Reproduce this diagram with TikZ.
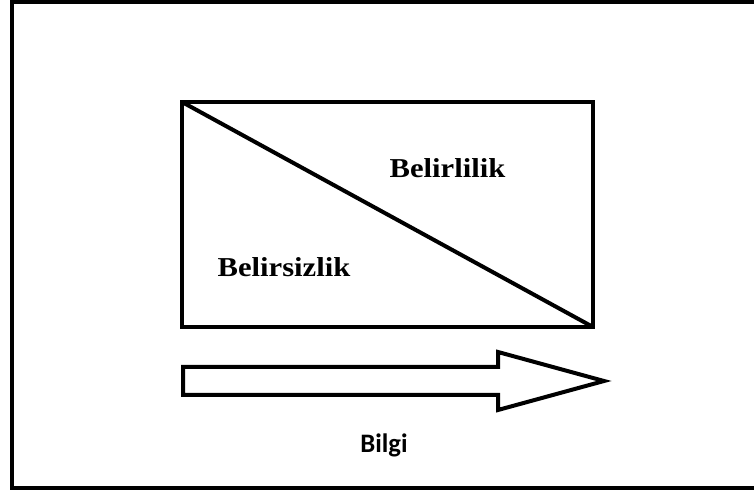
\documentclass[tikz,border=0pt]{standalone}
\usepackage{fontspec}
\newfontfamily\calibri{Carlito}
\newfontfamily\bookserif[FakeStretch=1.12]{Liberation Serif}
\begin{document}
\begin{tikzpicture}[x=0.75pt,y=-0.75pt,
  thick line/.style={line width=3pt},
  serifbold/.style={font=\bookserif\bfseries\fontsize{20.5pt}{24pt}\selectfont, inner sep=0pt, anchor=base},
  sansbold/.style={font=\calibri\bfseries\fontsize{20pt}{23pt}\selectfont, inner sep=0pt, anchor=base}]
\useasboundingbox (0,0) rectangle (754,491);
% outer frame (right side cut off)
\draw[thick line, line join=miter] (760,2) -- (11.5,2) -- (11.5,488) -- (760,488);
% box with diagonal
\coordinate (tl) at (182,102);
\coordinate (br) at (593,327);
\draw[thick line] (tl) rectangle (br);
\draw[thick line] (tl) -- (br);
\node[serifbold] (certain) at (447.5,178) {Belirlilik};
\node[serifbold] (uncertain) at (284,277) {Belirsizlik};
% block arrow
\draw[thick line, line join=miter] (183,367) -- (498,367) -- (498,352) -- (604,381) -- (498,410) -- (498,395) -- (183,395) -- cycle;
\node[sansbold] (info) at (384,453) {Bilgi};
\end{tikzpicture}
\end{document}
